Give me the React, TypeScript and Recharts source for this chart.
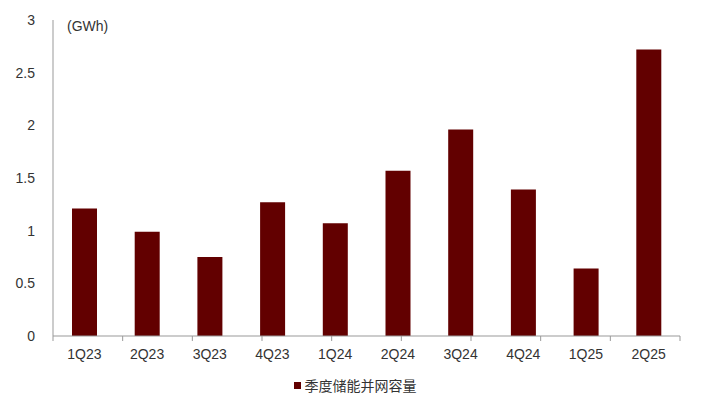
import { Bar, BarChart, Legend, XAxis, YAxis } from "recharts"

const quarters = ["1Q23", "2Q23", "3Q23", "4Q23", "1Q24", "2Q24", "3Q24", "4Q24", "1Q25", "2Q25"]
const capacity = [1.21, 0.99, 0.75, 1.27, 1.07, 1.57, 1.96, 1.39, 0.64, 2.72]
const yTicks = [0, 0.5, 1, 1.5, 2, 2.5, 3]
const boundaryTicks = [0, 1, 2, 3, 4, 5, 6, 7, 8, 9, 10]
const seriesName = "季度储能并网容量"
const unitLabel = "(GWh)"

const data = quarters.map((q, i) => ({ quarter: q, value: capacity[i] }))

const barColor = "#620000"
const axisColor = "#999999"
const textColor = "#333333"
const font = "'Liberation Sans', Arial, sans-serif"
const cjkFont = "'Noto Sans CJK SC', sans-serif"

function UnitLabel(props: any) {
    const { viewBox } = props
    return (
        <text
            x={viewBox.x + viewBox.width + 14}
            y={viewBox.y + 6}
            dominantBaseline="central"
            fontSize={14}
            fill={textColor}
            fontFamily={font}
        >
            {unitLabel}
        </text>
    )
}

function LegendContent() {
    return (
        <div style={{ display: "flex", justifyContent: "center", alignItems: "center", fontFamily: cjkFont, fontSize: 14, color: textColor }}>
            <span style={{ display: "inline-block", width: 7, height: 7, background: barColor, marginRight: 4 }} />
            <span>{seriesName}</span>
        </div>
    )
}

export default function App() {
    return (
        <div style={{ width: 710, height: 415, background: "#fff" }}>
            <style>{"body{margin:0}"}</style>
            <BarChart
                width={710}
                height={415}
                data={data}
                margin={{ top: 20, right: 30, bottom: 18, left: 0 }}
            >
                {/* id 0 is laid out first, so this one sits right on the plot edge */}
                <XAxis
                    xAxisId={0}
                    type="number"
                    domain={[0, 10]}
                    ticks={boundaryTicks}
                    interval={0}
                    height={1}
                    axisLine={{ stroke: axisColor }}
                    tickFormatter={() => ""}
                    tickLine={{ stroke: axisColor }}
                    tickSize={5}
                />
                <XAxis
                    xAxisId="cat"
                    dataKey="quarter"
                    height={38}
                    axisLine={false}
                    tickLine={false}
                    tick={{ fontSize: 14, fill: textColor, fontFamily: font }}
                    tickMargin={6}
                />
                <YAxis
                    width={53}
                    domain={[0, 3]}
                    ticks={yTicks}
                    axisLine={{ stroke: axisColor }}
                    tickLine={false}
                    tick={{ fontSize: 14, fill: textColor, fontFamily: font }}
                    tickMargin={12}
                    label={<UnitLabel />}
                />
                <Legend verticalAlign="bottom" height={22} wrapperStyle={{ left: 0, width: 710 }} content={<LegendContent />} />
                <Bar xAxisId="cat" dataKey="value" name={seriesName} fill={barColor} barSize={25} isAnimationActive={false} />
            </BarChart>
        </div>
    )
}
